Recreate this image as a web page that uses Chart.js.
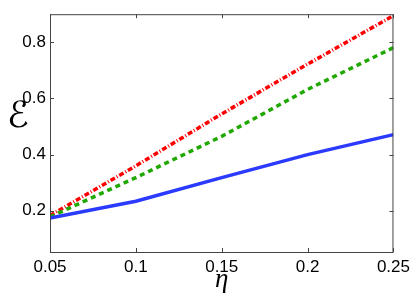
<!DOCTYPE html>
<html lang="en">
<head>
    <meta charset="UTF-8">
    <title>Epsilon vs eta</title>
    <script src="https://cdn.jsdelivr.net/npm/chart.js"></script>
    <style>
        html, body { margin: 0; padding: 0; background: #fff; }
        canvas { display: block; }
    </style>
</head>
<body>
    <canvas id="myChart" width="415" height="299"></canvas>

    <script>
        // values
        const etaValues = [0.05, 0.1, 0.15, 0.2, 0.25];
        const blueSeries = [0.174, 0.234, 0.318, 0.400, 0.471];
        const greenSeries = [0.178, 0.318, 0.465, 0.632, 0.781];
        const redSeries = [0.183, 0.360, 0.545, 0.722, 0.895];
        const xTicks = [0.05, 0.1, 0.15, 0.2, 0.25];
        const yTicks = [0.2, 0.4, 0.6, 0.8];

        function toPoints(values) {
            return etaValues.map((x, i) => ({ x: x, y: values[i] }));
        }

        const axisColor = "#444";
        const tickFont = { family: "Liberation Sans, Arial, sans-serif", size: 17 };

        // box around plot, inward ticks, and the axis titles
        const frame = {
            id: "frame",
            afterDraw(chart) {
                const ctx = chart.ctx;
                const a = chart.chartArea;
                const xs = chart.scales.x, ys = chart.scales.y;
                ctx.save();
                ctx.strokeStyle = axisColor;
                ctx.lineWidth = 1;
                ctx.strokeRect(a.left + 0.5, a.top + 0.5, a.right - a.left - 1, a.bottom - a.top);
                ctx.beginPath();
                xTicks.forEach(v => {
                    const px = Math.round(xs.getPixelForValue(v)) + 0.5;
                    ctx.moveTo(px, a.bottom); ctx.lineTo(px, a.bottom - 4);
                    ctx.moveTo(px, a.top); ctx.lineTo(px, a.top + 4);
                });
                yTicks.forEach(v => {
                    const py = Math.round(ys.getPixelForValue(v)) + 0.5;
                    ctx.moveTo(a.left, py); ctx.lineTo(a.left + 4, py);
                    ctx.moveTo(a.right, py); ctx.lineTo(a.right - 4, py);
                });
                ctx.stroke();

                ctx.fillStyle = "#000";
                ctx.textAlign = "center";
                ctx.textBaseline = "middle";
                ctx.font = "italic 27px 'Liberation Serif', serif";
                ctx.fillText("\u03b7", (a.left + a.right) / 2, 280);
                ctx.font = "36px 'DejaVu Sans', sans-serif";
                ctx.fillText("\u2130", 18, 118);
                ctx.restore();
            }
        };

        const ctx = document.getElementById("myChart").getContext("2d");
        new Chart(ctx, {
            type: "line",
            data: {
                datasets: [
                    {
                        label: "blue",
                        data: toPoints(blueSeries),
                        borderColor: "#2b3aff",
                        borderWidth: 3.5,
                        pointRadius: 0,
                        tension: 0
                    },
                    {
                        label: "green",
                        data: toPoints(greenSeries),
                        borderColor: "#1fa800",
                        borderWidth: 3.5,
                        borderDash: [5, 4],
                        pointRadius: 0,
                        tension: 0
                    },
                    {
                        label: "red",
                        data: toPoints(redSeries),
                        borderColor: "#ff0000",
                        borderWidth: 3.5,
                        borderDash: [5, 2, 1, 2],
                        pointRadius: 0,
                        tension: 0
                    }
                ]
            },
            options: {
                responsive: false,
                animation: false,
                layout: { padding: { top: 3, right: 20, left: 0, bottom: 0 } },
                plugins: { legend: { display: false }, tooltip: { enabled: false } },
                scales: {
                    x: {
                        type: "linear",
                        min: 0.05,
                        max: 0.25,
                        afterBuildTicks: s => { s.ticks = xTicks.map(v => ({ value: v })); },
                        afterFit: s => { s.height = 47; },
                        grid: { display: false, drawTicks: false },
                        border: { display: false },
                        ticks: {
                            color: "#000",
                            font: tickFont,
                            padding: 5,
                            maxRotation: 0,
                            callback: v => String(+v.toFixed(2))
                        }
                    },
                    y: {
                        min: 0.053,
                        max: 0.9,
                        afterBuildTicks: s => { s.ticks = yTicks.map(v => ({ value: v })); },
                        afterFit: s => { s.width = 50; },
                        grid: { display: false, drawTicks: false },
                        border: { display: false },
                        ticks: {
                            color: "#000",
                            font: tickFont,
                            padding: 4,
                            callback: v => String(+v.toFixed(1))
                        }
                    }
                }
            },
            plugins: [frame]
        });
    </script>
</body>
</html>
